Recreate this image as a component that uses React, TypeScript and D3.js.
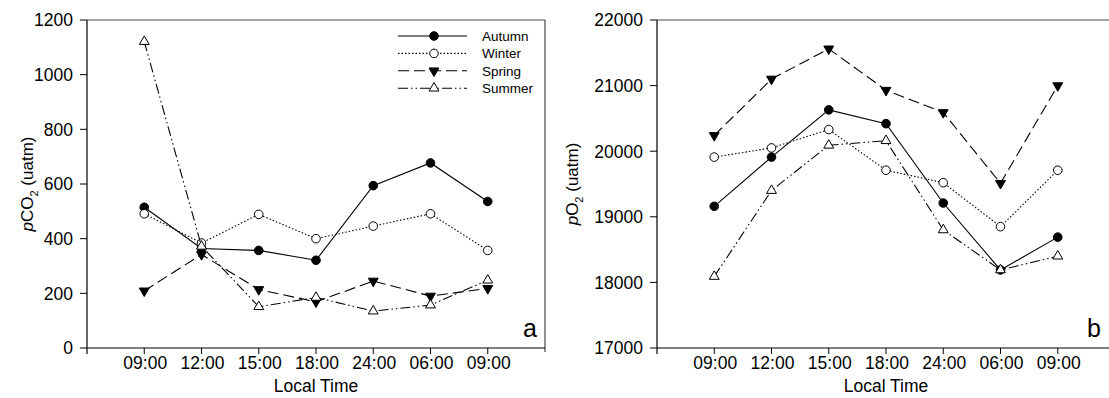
import React from 'react';
import * as d3 from 'd3';

// 横轴刻度
const times = ['09:00', '12:00', '15:00', '18:00', '24:00', '06:00', '09:00'];

// pCO2 (uatm)
const co2Autumn = [515, 364, 357, 321, 594, 677, 536];
const co2Winter = [491, 384, 489, 400, 446, 491, 357];
const co2Spring = [209, 342, 214, 169, 245, 190, 218];
const co2Summer = [1121, 372, 151, 185, 135, 157, 248];

// pO2 (uatm)
const o2Autumn = [19160, 19910, 20630, 20420, 19210, 18190, 18690];
const o2Winter = [19910, 20050, 20330, 19710, 19520, 18850, 19710];
const o2Spring = [20240, 21100, 21560, 20930, 20590, 19510, 21000];
const o2Summer = [18090, 19400, 20090, 20160, 18800, 18190, 18400];

const co2Ticks = [0, 200, 400, 600, 800, 1000, 1200];
const o2Ticks = [17000, 18000, 19000, 20000, 21000, 22000];

const seasons = ['Autumn', 'Winter', 'Spring', 'Summer'];

const styles: Record<string, { dash: string; marker: string; fill: string }> = {
  Autumn: { dash: 'none', marker: 'circle', fill: '#000' },
  Winter: { dash: '1.5,2', marker: 'circle', fill: '#fff' },
  Spring: { dash: '11,5', marker: 'down', fill: '#000' },
  Summer: { dash: '10,3,1.5,3,1.5,3', marker: 'up', fill: '#fff' },
};

const font = '"Liberation Sans", Arial, sans-serif';
const top = 20;
const bottom = 348;

const Marker: React.FC<{ x: number; y: number; kind: string; fill: string }> = ({ x, y, kind, fill }) => {
  if (kind === 'circle') {
    return <circle cx={x} cy={y} r={4.3} fill={fill} stroke="#000" strokeWidth={1} />;
  }
  const d = d3.symbol().type(d3.symbolTriangle).size(42)()!;
  const rot = kind === 'down' ? 180 : 0;
  return <path d={d} transform={`translate(${x},${y}) rotate(${rot})`} fill={fill} stroke="#000" strokeWidth={1} />;
};

interface PanelProps {
  left: number;
  right: number;
  frameRight: number;
  labelX: number;
  domain: [number, number];
  ticks: number[];
  data: number[][];
  label: string;
  sub: string;
  letter: string;
  legend?: boolean;
}

const Panel: React.FC<PanelProps> = ({ left, right, frameRight, labelX, domain, ticks, data, label, sub, letter, legend }) => {
  const x = d3.scaleLinear().domain([-1, 7]).range([left, right]);
  const y = d3.scaleLinear().domain(domain).range([bottom, top]);
  const line = d3.line<number>().x((_, i) => x(i)).y((d) => y(d));

  return (
    <g fontFamily={font}>
      {/* 边框 */}
      <line x1={left} x2={frameRight} y1={top} y2={top} stroke="#444" strokeWidth={1.2} />
      <line x1={frameRight} x2={frameRight} y1={top} y2={bottom + 4} stroke="#444" strokeWidth={1.2} />
      {/* 坐标轴 */}
      <line x1={left} x2={frameRight} y1={bottom} y2={bottom} stroke="#000" strokeWidth={1.2} />
      <line x1={left} x2={left} y1={top} y2={bottom + 6} stroke="#000" strokeWidth={1.2} />
      {ticks.map((t) => (
        <g key={t}>
          <line x1={left - 7} x2={left} y1={y(t)} y2={y(t)} stroke="#000" />
          <text x={left - 14} y={y(t)} dy="0.36em" textAnchor="end" fontSize={17.5}>{t}</text>
        </g>
      ))}
      {times.map((t, i) => (
        <g key={i}>
          <line x1={x(i)} x2={x(i)} y1={bottom} y2={bottom + 6} stroke="#000" />
          <text x={x(i) + 1} y={369} textAnchor="middle" fontSize={17.5}>{t}</text>
        </g>
      ))}
      <text x={x(3)} y={392} textAnchor="middle" fontSize={17.5}>Local Time</text>
      <text transform={`translate(${labelX},${(top + bottom) / 2}) rotate(-90)`} textAnchor="middle" fontSize={17}>
        <tspan fontStyle="italic">p</tspan>{label}<tspan dy={5} fontSize={11}>{sub}</tspan><tspan dy={-5}> (uatm)</tspan>
      </text>
      <text x={Math.min(frameRight, 1109) - 8} y={337} textAnchor="end" fontSize={25}>{letter}</text>

      {data.map((vals, k) => {
        const s = styles[seasons[k]];
        return (
          <g key={k}>
            <path d={line(vals)!} fill="none" stroke="#000" strokeWidth={1.1} strokeDasharray={s.dash} />
            {vals.map((v, i) => (
              <Marker key={i} x={x(i)} y={y(v)} kind={s.marker} fill={s.fill} />
            ))}
          </g>
        );
      })}

      {legend &&
        seasons.map((name, k) => {
          const s = styles[name];
          const ly = 36 + k * 17.4;
          return (
            <g key={name}>
              <line x1={398} x2={467} y1={ly} y2={ly} stroke="#000" strokeWidth={1.1} strokeDasharray={s.dash} />
              <Marker x={434} y={ly} kind={s.marker} fill={s.fill} />
              <text x={482} y={ly} dy="0.36em" fontSize={13.5}>{name}</text>
            </g>
          );
        })}
    </g>
  );
};

const App: React.FC = () => {
  return (
    <svg width={1109} height={398} style={{ position: 'absolute', left: 0, top: 0, background: '#fff' }}>
      <rect width={1109} height={398} fill="#fff" />
      <Panel
        left={87}
        right={545}
        frameRight={545}
        labelX={33}
        domain={[0, 1200]}
        ticks={co2Ticks}
        data={[co2Autumn, co2Winter, co2Spring, co2Summer]}
        label="CO"
        sub="2"
        letter="a"
        legend
      />
      <Panel
        left={657}
        right={1115}
        frameRight={1115}
        labelX={578}
        domain={[17000, 22000]}
        ticks={o2Ticks}
        data={[o2Autumn, o2Winter, o2Spring, o2Summer]}
        label="O"
        sub="2"
        letter="b"
      />
    </svg>
  );
};

export default App;
